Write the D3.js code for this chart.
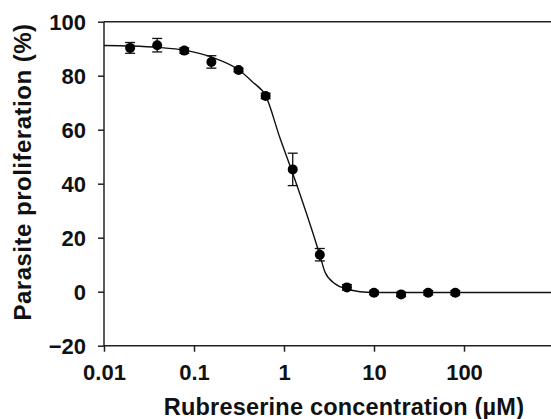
<!DOCTYPE html>
<html>
<head>
<meta charset="utf-8">
<script src="https://cdn.jsdelivr.net/npm/d3@7"></script>
<style>
  body { margin: 0; background: #fff; }
  text { font-family: "Liberation Sans", Arial, sans-serif; font-weight: bold; fill: #111; }
</style>
</head>
<body>
<div id="chart"></div>
<script>
// measured points (concentration in µM, proliferation %, error)
const concentrations = [0.0195, 0.039, 0.078, 0.156, 0.3125, 0.625, 1.25, 2.5, 5, 10, 20, 40, 80];
const proliferation = [90.3, 91.3, 89.3, 85.1, 82.1, 72.5, 45.3, 13.7, 1.6, -0.4, -1.0, -0.4, -0.4];
const errors = [2.0, 2.5, 1.0, 2.3, 0.7, 1.0, 6.0, 2.3, 1.0, 0.7, 0.8, 0.8, 0.8];

// fitted curve
const curveConc = [0.01, 0.02, 0.04, 0.08, 0.16, 0.3125, 0.45, 0.625, 0.9, 1.2, 2.5, 2.86, 3.7, 5, 7, 10, 20, 100, 1000];
const curveValues = [91.2, 91.0, 90.5, 89.4, 86.8, 82.2, 77.6, 72.6, 57.0, 45.5, 13.6, 7.2, 2.9, 1.0, 0.0, -0.3, -0.3, -0.3, -0.3];

const xTicks = [0.01, 0.1, 1, 10, 100];
const xTickLabels = ['0.01', '0.1', '1', '10', '100'];
const yTicks = [-20, 0, 20, 40, 60, 80, 100];

const width = 551, height = 419;
const plot = { left: 104, right: 554, top: 21.7, bottom: 345.7 };

const svg = d3.select('#chart').append('svg')
  .attr('width', width)
  .attr('height', height);

const x = d3.scaleLog().domain([0.01, 1000]).range([plot.left, plot.right]);
const y = d3.scaleLinear().domain([-20, 100]).range([plot.bottom, plot.top]);

// y axis
const yAxis = svg.append('g')
  .attr('transform', `translate(${plot.left},0)`)
  .call(d3.axisLeft(y).tickValues(yTicks).tickSize(6).tickPadding(12).tickFormat(d3.format('d')));
yAxis.selectAll('text').style('font-size', '22px').attr('dy', '0.36em');

// x axis
const xAxis = svg.append('g')
  .attr('transform', `translate(0,${plot.bottom})`)
  .call(d3.axisBottom(x).tickValues(xTicks).tickSize(6).tickPadding(13)
    .tickFormat((d, i) => xTickLabels[i]));
xAxis.selectAll('text').style('font-size', '22px');

svg.selectAll('.domain, .tick line').attr('stroke', '#222').attr('stroke-width', 1.5);
svg.selectAll('.tick text').attr('fill', '#111');
xAxis.select('.domain').attr('d', `M${plot.left},0H${plot.right}`);
yAxis.select('.domain').attr('d', `M0,${plot.top}V${plot.bottom}`);

// top frame line
svg.append('line')
  .attr('x1', plot.left).attr('x2', plot.right)
  .attr('y1', plot.top).attr('y2', plot.top)
  .attr('stroke', '#222').attr('stroke-width', 1.5);

// fitted curve
const line = d3.line()
  .x(d => x(d[0]))
  .y(d => y(d[1]))
  .curve(d3.curveMonotoneX);

svg.append('path')
  .datum(curveConc.map((c, i) => [c, curveValues[i]]))
  .attr('d', line)
  .attr('fill', 'none')
  .attr('stroke', '#111')
  .attr('stroke-width', 1.4);

const points = concentrations.map((c, i) => ({ c, v: proliferation[i], e: errors[i] }));

// error bars
const bars = svg.append('g').attr('stroke', '#111').attr('stroke-width', 1.3);
points.forEach(d => {
  const cx = x(d.c);
  bars.append('line').attr('x1', cx).attr('x2', cx).attr('y1', y(d.v - d.e)).attr('y2', y(d.v + d.e));
  bars.append('line').attr('x1', cx - 5).attr('x2', cx + 5).attr('y1', y(d.v - d.e)).attr('y2', y(d.v - d.e));
  bars.append('line').attr('x1', cx - 5).attr('x2', cx + 5).attr('y1', y(d.v + d.e)).attr('y2', y(d.v + d.e));
});

svg.selectAll('.point')
  .data(points)
  .enter()
  .append('circle')
  .attr('cx', d => x(d.c))
  .attr('cy', d => y(d.v))
  .attr('r', 5)
  .attr('fill', '#000');

// axis titles
svg.append('text')
  .attr('x', 344)
  .attr('y', 415)
  .attr('text-anchor', 'middle')
  .style('font-size', '23.5px')
  .style('letter-spacing', '0.2px')
  .text('Rubreserine concentration (µM)');

svg.append('text')
  .attr('transform', `translate(31,172) rotate(-90)`)
  .attr('text-anchor', 'middle')
  .style('font-size', '24px')
  .style('letter-spacing', '0.5px')
  .text('Parasite proliferation (%)');
</script>
</body>
</html>
